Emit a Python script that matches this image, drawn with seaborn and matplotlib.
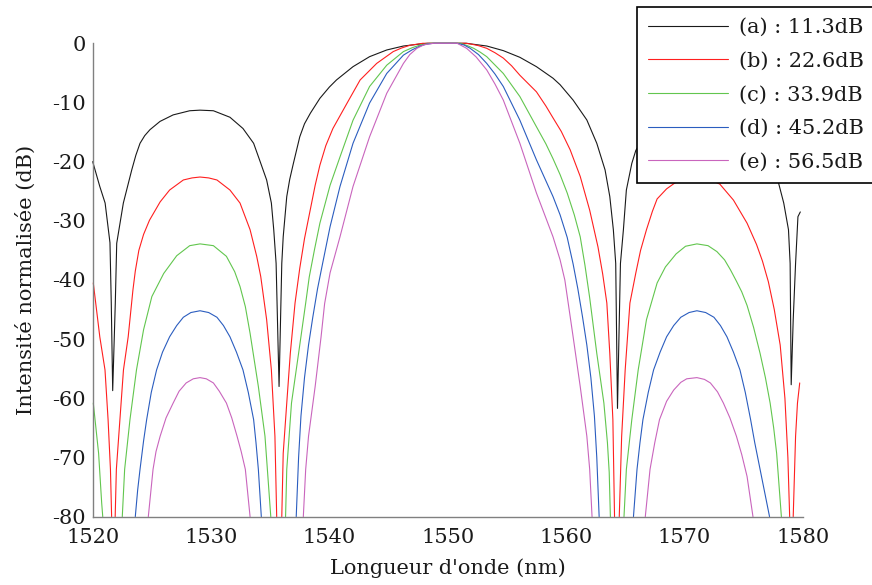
import numpy as np
import pandas as pd
import matplotlib
matplotlib.use('Agg')
import matplotlib.pyplot as plt
import seaborn as sns

nan = np.nan

labels = ['(a) : 11.3dB', '(b) : 22.6dB', '(c) : 33.9dB', '(d) : 45.2dB', '(e) : 56.5dB']
colors = ['#1a1a1a', '#ff1f1f', '#62c64e', '#2b5dbf', '#c965bd']

x_ticks = [1520, 1530, 1540, 1550, 1560, 1570, 1580]
y_ticks = [-80, -70, -60, -50, -40, -30, -20, -10, 0]

# (a) 11.3 dB
wl_a = [1520.0, 1520.6, 1521.05, 1521.46, 1521.57, 1521.69, 1521.91, 1522.03, 1522.59, 1523.3,
        1523.65, 1524.0, 1524.4, 1524.84, 1525.69, 1526.8, 1528.2, 1529.07, 1530.2, 1531.6,
        1532.7, 1533.6, 1534.1, 1534.7, 1535.1, 1535.3, 1535.5, 1535.75, 1535.98, 1536.1,
        1536.4, 1536.65, 1536.96, 1537.5, 1537.9, 1538.4, 1539.2, 1540.0, 1540.6, 1542.0,
        1543.4, 1544.85, 1546.26, 1547.67, 1548.3, 1551.6, 1552.0, 1553.3, 1554.7, 1556.1,
        1557.5, 1558.9, 1559.5, 1560.6, 1561.76, 1562.6, 1563.3, 1563.7, 1564.0, 1564.2,
        1564.35, 1564.6, 1564.85, 1565.1, 1565.56, 1565.9, 1567.0, 1568.5, 1571.06, 1573.5,
        1575.5, 1577.0, 1577.96, 1578.4, 1578.8, 1578.94, 1579.03, 1579.2, 1579.4, 1579.6,
        1579.8]
db_a = [-20.0, -24.2, -27.0, -33.7, -43.9, -58.7, -43.9, -33.8, -27.0, -21.4,
        -18.9, -16.9, -15.6, -14.6, -13.2, -12.1, -11.4, -11.3, -11.4, -12.5,
        -14.4, -16.9, -19.7, -23.1, -27.0, -31.5, -37.2, -58.0, -37.2, -32.7,
        -25.9, -23.0, -20.3, -15.8, -13.6, -11.8, -9.3, -7.4, -6.2, -3.95,
        -2.26, -1.13, -0.46, -0.12, 0.0, 0.0, -0.12, -0.46, -1.24, -2.37,
        -3.95, -5.9, -7.0, -9.6, -12.96, -16.9, -21.4, -25.9, -31.5, -37.2,
        -61.7, -37.2, -31.5, -24.8, -20.3, -18.1, -14.5, -12.3, -11.3, -12.3,
        -14.5, -18.5, -23.6, -27.0, -31.5, -37.2, -57.7, -46.7, -37.2, -29.3,
        -28.5]

# (b) 22.6 dB  (nan = the curve drops out below -80)
wl_b = [1520.05, 1520.6, 1521.04, 1521.3, 1521.5, 1521.6, nan,
        1521.9, 1522.0, 1522.3, 1522.6, 1523.0, 1523.4, 1523.6, 1523.9, 1524.3, 1524.8,
        1525.7, 1526.5, 1527.66, 1528.4, 1529.07, 1529.8, 1530.5, 1531.6, 1532.45, 1533.3,
        1533.86, 1534.2, 1534.7, 1535.1, 1535.4, 1535.55, nan,
        1535.98, 1536.1, 1536.4, 1536.7, 1537.1, 1537.5, 1537.9, 1538.4, 1538.8, 1539.2,
        1539.7, 1540.3, 1541.5, 1542.6, 1544.0, 1545.4, 1546.1, 1546.8, 1547.9, 1551.5,
        1551.9, 1552.6, 1553.3, 1554.0, 1554.7, 1555.4, 1556.1, 1557.5, 1558.3, 1558.9,
        1559.6, 1560.35, 1561.2, 1562.0, 1562.7, 1563.1, 1563.45, 1563.7, 1563.96, 1564.1, nan,
        1564.5, 1564.7, 1565.0, 1565.4, 1565.9, 1566.3, 1566.8, 1567.3, 1567.7, 1568.5,
        1569.2, 1570.1, 1571.06, 1572.0, 1573.0, 1574.15, 1575.3, 1576.1, 1576.6, 1577.1,
        1577.6, 1578.1, 1578.5, 1578.75, 1578.9, nan,
        1579.2, 1579.4, 1579.56, 1579.75]
db_b = [-40.5, -49.6, -55.2, -63.6, -72.0, -80.0, nan,
        -80.0, -72.0, -63.6, -55.2, -49.6, -41.7, -38.5, -35.0, -32.3, -29.9,
        -26.8, -24.8, -23.1, -22.75, -22.6, -22.75, -23.1, -24.8, -27.0, -31.5,
        -36.0, -39.4, -46.7, -55.2, -66.4, -80.0, nan,
        -80.0, -69.3, -60.8, -52.4, -43.9, -38.0, -33.0, -28.0, -24.0, -20.6,
        -17.3, -14.4, -10.1, -6.2, -3.4, -1.4, -0.8, -0.34, 0.0, 0.0,
        -0.1, -0.4, -0.85, -1.6, -2.5, -3.8, -5.4, -8.2, -10.6, -12.6,
        -14.9, -18.0, -22.5, -28.2, -34.4, -39.0, -43.9, -52.4, -63.6, -80.0, nan,
        -80.0, -66.5, -55.2, -43.9, -38.8, -35.0, -31.5, -28.4, -26.3, -24.6,
        -23.6, -22.8, -22.6, -22.9, -23.8, -26.5, -30.4, -34.0, -36.8, -40.3,
        -45.0, -51.0, -60.0, -70.0, -80.0, nan,
        -80.0, -66.4, -60.8, -57.4]

# (c) 33.9 dB
wl_c = [1520.05, 1520.5, 1520.76, 1520.85, nan,
        1522.5, 1522.7, 1523.15, 1523.7, 1524.3, 1525.0, 1526.0, 1527.1, 1528.2, 1529.07,
        1530.2, 1531.3, 1532.0, 1532.45, 1532.9, 1533.3, 1534.0, 1534.56, 1535.05, nan,
        1536.3, 1536.4, 1536.8, 1537.4, 1538.0, 1538.3, 1538.75, 1539.2, 1540.06, 1540.9,
        1542.0, 1543.4, 1544.85, 1546.26, 1547.0, 1547.67, 1548.5, 1551.05, 1551.6, 1552.2,
        1552.75, 1553.3, 1554.7, 1556.1, 1557.5, 1558.3, 1558.9, 1559.5, 1560.1, 1560.7,
        1561.2, 1561.6, 1562.0, 1562.6, 1563.2, 1563.5, 1563.65, 1563.75, nan,
        1564.9, 1565.1, 1565.56, 1566.1, 1566.8, 1567.7, 1568.4, 1569.3, 1570.1, 1571.06,
        1572.0, 1572.75, 1573.4, 1573.9, 1574.4, 1574.85, 1575.3, 1575.85, 1576.4, 1576.85,
        1577.25, 1577.55, 1577.8, 1578.2]
db_c = [-60.8, -69.3, -77.7, -80.0, nan,
        -80.0, -72.0, -63.6, -55.2, -48.4, -42.8, -38.9, -35.9, -34.2, -33.9,
        -34.2, -36.0, -38.6, -41.1, -44.5, -49.0, -58.0, -66.4, -80.0, nan,
        -80.0, -72.0, -60.8, -52.4, -43.9, -39.5, -34.8, -30.4, -24.0, -19.2,
        -13.0, -7.3, -3.7, -1.4, -0.75, -0.3, 0.0, 0.0, -0.35, -0.85,
        -1.5, -2.26, -5.1, -9.0, -14.1, -17.0, -19.5, -22.2, -25.3, -29.0,
        -32.7, -37.5, -43.0, -52.4, -60.8, -67.5, -72.5, -80.0, nan,
        -80.0, -72.0, -63.6, -55.2, -46.7, -40.5, -37.8, -35.6, -34.3, -33.9,
        -34.2, -35.2, -36.6, -38.3, -40.2, -42.0, -44.3, -48.0, -52.4, -56.5,
        -60.8, -65.0, -69.3, -80.0]

# (d) 45.2 dB
wl_d = [1523.6, 1523.8, 1524.0, 1524.3, 1524.56, 1524.95, 1525.4, 1525.9, 1526.5, 1527.1,
        1527.66, 1528.3, 1529.07, 1529.8, 1530.5, 1531.05, 1531.6, 1532.15, 1532.7, 1533.15,
        1533.6, 1533.8, 1534.0, 1534.25, nan,
        1537.2, 1537.4, 1537.6, 1537.9, 1538.24, 1538.6, 1539.0, 1539.4, 1540.06, 1540.9,
        1542.0, 1543.4, 1544.85, 1546.26, 1547.0, 1547.67, 1548.2, 1548.8, 1550.8, 1551.4,
        1551.9, 1552.6, 1553.3, 1554.0, 1554.7, 1556.1, 1557.5, 1558.9, 1559.5, 1560.1,
        1560.6, 1561.0, 1561.4, 1561.76, 1562.1, 1562.4, 1562.6, 1562.8, nan,
        1565.7, 1566.0, 1566.25, 1566.5, 1566.95, 1567.4, 1567.95, 1568.5, 1569.1, 1569.7,
        1570.4, 1571.06, 1571.8, 1572.5, 1573.05, 1573.6, 1574.15, 1574.7, 1575.15, 1575.6,
        1575.95, 1576.4, 1577.2]
db_d = [-80.0, -75.5, -72.0, -67.2, -63.6, -59.0, -55.2, -52.2, -49.6, -47.7,
        -46.3, -45.5, -45.2, -45.5, -46.3, -47.7, -49.6, -52.2, -55.2, -59.0,
        -63.6, -67.5, -72.0, -80.0, nan,
        -80.0, -70.0, -63.0, -56.5, -51.0, -46.3, -41.5, -37.5, -31.0, -24.2,
        -16.9, -10.1, -5.1, -2.0, -1.1, -0.46, -0.15, 0.0, 0.0, -0.3,
        -0.85, -1.9, -3.4, -5.2, -7.3, -13.0, -19.7, -25.9, -29.0, -32.8,
        -37.3, -41.5, -46.3, -51.0, -56.5, -63.0, -70.0, -80.0, nan,
        -80.0, -72.0, -67.5, -63.6, -59.0, -55.2, -52.2, -49.6, -47.7, -46.3,
        -45.5, -45.2, -45.5, -46.3, -47.7, -49.6, -52.2, -55.2, -59.0, -63.6,
        -67.5, -72.0, -80.0]

# (e) 56.5 dB
wl_e = [1524.7, 1525.1, 1525.35, 1525.7, 1526.2, 1526.8, 1527.3, 1527.9, 1528.5, 1529.07,
        1529.6, 1530.2, 1530.7, 1531.3, 1531.75, 1532.2, 1532.55, 1532.9, 1533.3, nan,
        1537.8, 1538.0, 1538.24, 1538.8, 1539.3, 1539.6, 1540.06, 1540.9, 1542.0, 1543.4,
        1544.85, 1546.26, 1546.8, 1547.4, 1548.0, 1548.8, 1550.8, 1551.6, 1552.4, 1553.3,
        1554.0, 1554.7, 1556.1, 1557.5, 1558.9, 1559.5, 1559.9, 1560.6, 1561.2, 1561.76,
        1562.0, 1562.2, nan,
        1566.7, 1567.1, 1567.5, 1567.9, 1568.5, 1569.1, 1569.7, 1570.2, 1571.06, 1571.7,
        1572.2, 1572.8, 1573.3, 1573.85, 1574.4, 1574.85, 1575.3, 1575.8]
db_e = [-80.0, -72.0, -69.0, -66.4, -63.3, -60.8, -58.8, -57.4, -56.7, -56.5,
        -56.7, -57.4, -58.8, -60.8, -63.3, -66.4, -69.0, -72.0, -80.0, nan,
        -80.0, -72.0, -66.4, -58.0, -49.6, -44.0, -38.8, -32.7, -24.2, -15.8,
        -8.45, -3.4, -1.9, -0.85, -0.25, 0.0, 0.0, -0.85, -2.3, -4.5,
        -6.9, -9.6, -16.9, -25.3, -32.7, -36.6, -40.0, -49.6, -58.0, -66.4,
        -72.0, -80.0, nan,
        -80.0, -72.0, -67.5, -63.6, -60.5, -58.6, -57.3, -56.7, -56.5, -56.8,
        -57.4, -58.9, -60.8, -63.3, -66.4, -69.5, -73.2, -80.0]

# long table, one "seg" id per unbroken piece of a curve
parts = []
for lab, wl, db in zip(labels, [wl_a, wl_b, wl_c, wl_d, wl_e], [db_a, db_b, db_c, db_d, db_e]):
    wl = np.array(wl, dtype=float)
    db = np.array(db, dtype=float)
    seg = np.cumsum(np.isnan(wl))
    ok = ~np.isnan(wl)
    parts.append(pd.DataFrame({'wl': wl[ok], 'db': db[ok], 'curve': lab, 'seg': seg[ok]}))
df = pd.concat(parts, ignore_index=True)

sns.set_style('white')
plt.rcParams['font.family'] = ['DejaVu Serif']
plt.rcParams['axes.unicode_minus'] = False

fig = plt.figure(figsize=(8.72, 5.85), dpi=100)
ax = fig.add_axes([0.1063, 0.1168, 0.8142, 0.8092])

sns.lineplot(data=df, x='wl', y='db', hue='curve', hue_order=labels, units='seg',
             estimator=None, sort=False, palette=dict(zip(labels, colors)),
             linewidth=0.8, ax=ax)
for ln in ax.lines:
    ln.set_clip_on(False)

ax.set_xlim(1520, 1580)
ax.set_ylim(-80, 0)
ax.set_xticks(x_ticks)
ax.set_yticks(y_ticks)
ax.set_xticklabels([str(v) for v in x_ticks])
ax.set_yticklabels([str(v) for v in y_ticks])

for s in ['top', 'right']:
    ax.spines[s].set_visible(False)
for s in ['left', 'bottom']:
    ax.spines[s].set_color('#808080')
    ax.spines[s].set_linewidth(1.0)

ax.tick_params(direction='in', length=4, width=1, color='black', labelsize=15,
               labelcolor='#1a1a1a')
ax.tick_params(axis='x', pad=8.5)
ax.tick_params(axis='y', pad=5)

ax.set_xlabel("Longueur d'onde (nm)", fontsize=15, color='#1a1a1a')
ax.set_ylabel('Intensité normalisée (dB)', fontsize=15, color='#1a1a1a')
ax.xaxis.set_label_coords(0.5, -0.088)
ax.yaxis.set_label_coords(-0.080, 0.5)

sns.move_legend(ax, 'upper left', bbox_to_anchor=(0.730, 0.9886),
                bbox_transform=fig.transFigure, title=None, frameon=True,
                fancybox=False, edgecolor='black', framealpha=1, fontsize=15,
                handlelength=3.85, handletextpad=0.5, borderpad=0.55,
                labelspacing=0.7, borderaxespad=0)
leg = ax.get_legend()
leg.get_frame().set_linewidth(1.2)
for t in leg.get_texts():
    t.set_color('#1a1a1a')

fig.savefig('out.png', dpi=100)
